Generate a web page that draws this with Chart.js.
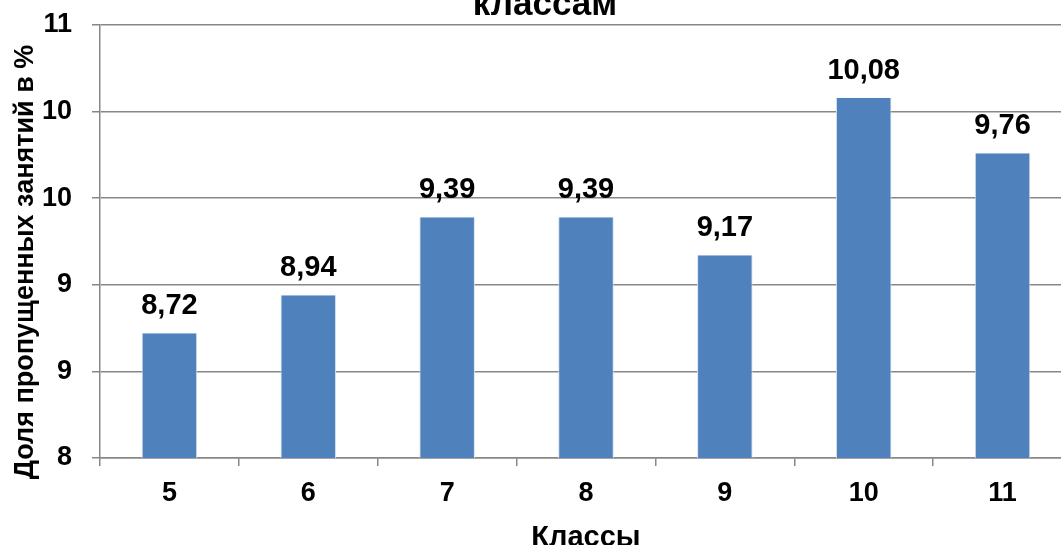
<!DOCTYPE html>
<html>
<head>
<meta charset="utf-8">
<script src="https://cdn.jsdelivr.net/npm/chart.js@4"></script>
<style>
  html, body { margin: 0; padding: 0; overflow: hidden; background: #fff; }
  #wrap { width: 1090px; height: 545px; }
</style>
</head>
<body>
<div id="wrap"><canvas id="chart" width="1090" height="545"></canvas></div>
<script>
// Data
const classes = ["5", "6", "7", "8", "9", "10", "11"];
const absenceShare = [8.72, 8.94, 9.39, 9.39, 9.17, 10.08, 9.76];

const titleText = "классам";
const yTitle = "Доля пропущенных занятий в %";
const xTitle = "Классы";

const FONT = "'Liberation Sans', Arial, sans-serif";
const GRID = "#878787";

// bar value labels, with comma decimals
const valueLabels = {
  id: "valueLabels",
  afterDatasetsDraw(chart) {
    const ctx = chart.ctx;
    const meta = chart.getDatasetMeta(0);
    ctx.save();
    ctx.font = "bold 29px " + FONT;
    ctx.fillStyle = "#000";
    ctx.textAlign = "center";
    ctx.textBaseline = "alphabetic";
    meta.data.forEach((bar, i) => {
      ctx.fillText(absenceShare[i].toFixed(2).replace(".", ","), bar.x, bar.y - 19);
    });
    ctx.restore();
  }
};

// chart title (only its last line shows at the top edge) and the y axis title
const extraTitles = {
  id: "extraTitles",
  afterDraw(chart) {
    const ctx = chart.ctx;
    ctx.save();
    ctx.fillStyle = "#000";
    ctx.textAlign = "center";
    ctx.textBaseline = "alphabetic";
    ctx.font = "bold 35px " + FONT;
    ctx.fillText(titleText, chart.width / 2, 15);

    ctx.font = "bold 27px " + FONT;
    ctx.textBaseline = "middle";
    ctx.translate(26, 262);
    ctx.rotate(-Math.PI / 2);
    ctx.fillText(yTitle, 0, 0);
    ctx.restore();
  }
};

new Chart(document.getElementById("chart").getContext("2d"), {
  type: "bar",
  data: {
    labels: classes,
    datasets: [{
      data: absenceShare,
      backgroundColor: "#4F81BD",
      borderColor: "#d6e1ef",
      borderWidth: { left: 1, right: 1, top: 0, bottom: 0 },
      categoryPercentage: 1.0,
      barPercentage: 0.4
    }]
  },
  options: {
    responsive: false,
    animation: false,
    devicePixelRatio: 1,
    layout: { padding: { top: 25, right: 18, bottom: -10, left: 4 } },
    plugins: {
      legend: { display: false },
      tooltip: { enabled: false },
      title: { display: false }
    },
    scales: {
      x: {
        afterFit: s => { s.height = 97; },
        grid: { drawOnChartArea: false, color: GRID, tickLength: 8, lineWidth: 1.5 },
        border: { color: GRID, width: 1.5 },
        ticks: { color: "#000", font: { family: FONT, size: 27, weight: "bold" }, padding: 11 },
        title: {
          display: true, text: xTitle, color: "#000",
          font: { family: FONT, size: 29, weight: "bold" },
          padding: { top: 3, bottom: 0 }
        }
      },
      y: {
        min: 8, max: 10.5,
        afterFit: s => { s.width = 96; s.paddingTop = 0; s.paddingBottom = 0; },
        grid: { color: GRID, tickLength: 8, lineWidth: 1.5 },
        border: { color: GRID, width: 1.5 },
        ticks: {
          stepSize: 0.5,
          color: "#000",
          font: { family: FONT, size: 27, weight: "bold" },
          padding: 20,
          callback: v => Math.round(v)
        }
      }
    }
  },
  plugins: [valueLabels, extraTitles]
});
</script>
</body>
</html>
